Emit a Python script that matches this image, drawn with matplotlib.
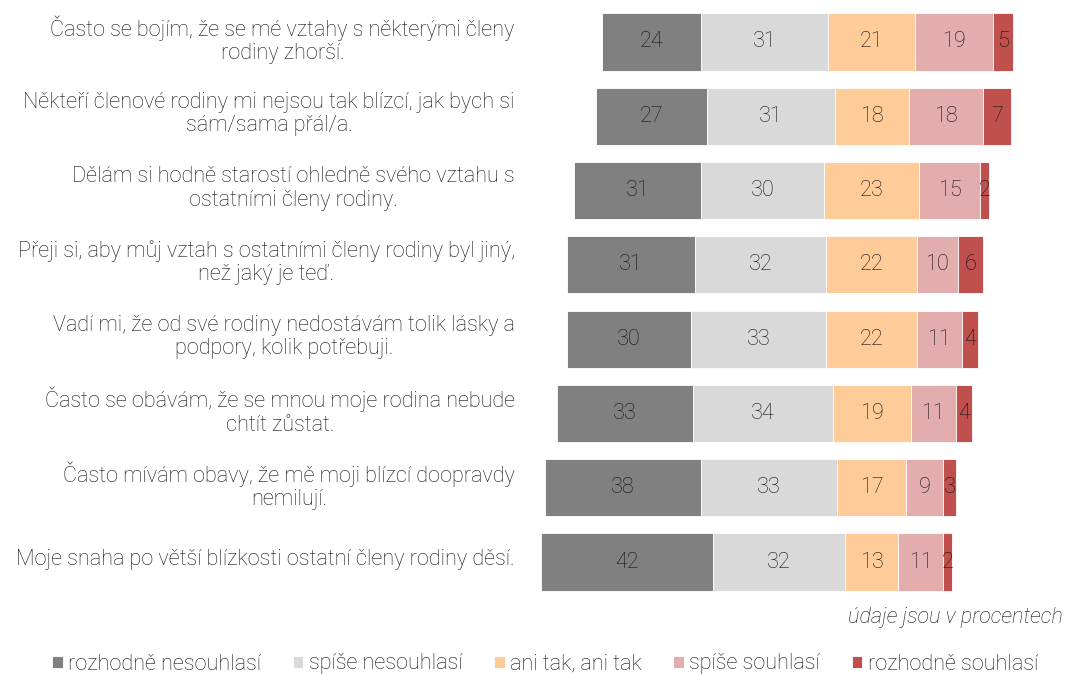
import matplotlib.pyplot as plt
import numpy as np

plt.rcParams['font.family'] = ['Roboto', 'DejaVu Sans']

# statements (top to bottom)
labels = [
    "Často se bojím, že se mé vztahy s některými členy\nrodiny zhorší.",
    "Někteří členové rodiny mi nejsou tak blízcí, jak bych si\nsám/sama přál/a.",
    "Dělám si hodně starostí ohledně svého vztahu s\nostatními členy rodiny.",
    "Přeji si, aby můj vztah s ostatními členy rodiny byl jiný,\nnež jaký je teď.",
    "Vadí mi, že od své rodiny nedostávám tolik lásky a\npodpory, kolik potřebuji.",
    "Často se obávám, že se mnou moje rodina nebude\nchtít zůstat.",
    "Často mívám obavy, že mě moji blízcí doopravdy\nnemilují.",
    "Moje snaha po větší blízkosti ostatní členy rodiny děsí.",
]

categories = ["rozhodně nesouhlasí", "spíše nesouhlasí", "ani tak, ani tak",
              "spíše souhlasí", "rozhodně souhlasí"]
colors = ["#808080", "#D9D9D9", "#FFCC99", "#E3ADAD", "#C0504D"]

rozhodne_nes = [24, 27, 31, 31, 30, 33, 38, 42]
spise_nes = [31, 31, 30, 32, 33, 34, 33, 32]
ani_tak = [21, 18, 23, 22, 22, 19, 17, 13]
spise_sou = [19, 18, 15, 10, 11, 11, 9, 11]
rozhodne_sou = [5, 7, 2, 6, 4, 4, 3, 2]

data = np.array([rozhodne_nes, spise_nes, ani_tak, spise_sou, rozhodne_sou], dtype=float)

fs = 15.6
tc = '#141414'

fig = plt.figure(figsize=(10.68, 6.75), dpi=100)
ax = fig.add_axes([530 / 1068, 75 / 675, 500 / 1068, 600 / 675])

y = np.arange(len(labels))
# diverging: centre of the neutral category at 0
left = -(data[0] + data[1] + data[2] / 2)
for k in range(5):
    ax.barh(y, data[k], left=left, height=0.77, color=colors[k],
            edgecolor='white', linewidth=0.6, label=categories[k])
    for i in range(len(y)):
        ax.text(left[i] + data[k][i] / 2, y[i], "%d" % data[k][i],
                ha='center', va='center', fontsize=fs, color=tc,
                fontweight='light')
    left = left + data[k]

for i, lab in enumerate(labels):
    ax.text(-86.8, y[i] - 0.03, lab, ha='right', va='center', multialignment='center',
            fontsize=fs, color=tc, fontweight='light', clip_on=False,
            linespacing=1.15)

ax.set_xlim(-83.1, 38.55)
ax.set_ylim(7.51, -0.565)
ax.axis('off')

fig.text(1063 / 1068, 1 - 617 / 675, "údaje jsou v procentech", ha='right', va='center',
         fontsize=fs, style='italic', fontweight='light', color=tc)

handles, labs = ax.get_legend_handles_labels()
fig.legend(handles, labs, loc='center', bbox_to_anchor=(545 / 1068, 1 - 664 / 675), ncol=5,
           frameon=False, handlelength=0.5, handleheight=0.5, handletextpad=0.25,
           columnspacing=1.45, prop={'size': fs, 'weight': 'light'},
           labelcolor=tc, borderpad=0, borderaxespad=0)

fig.savefig("out.png", dpi=100)
